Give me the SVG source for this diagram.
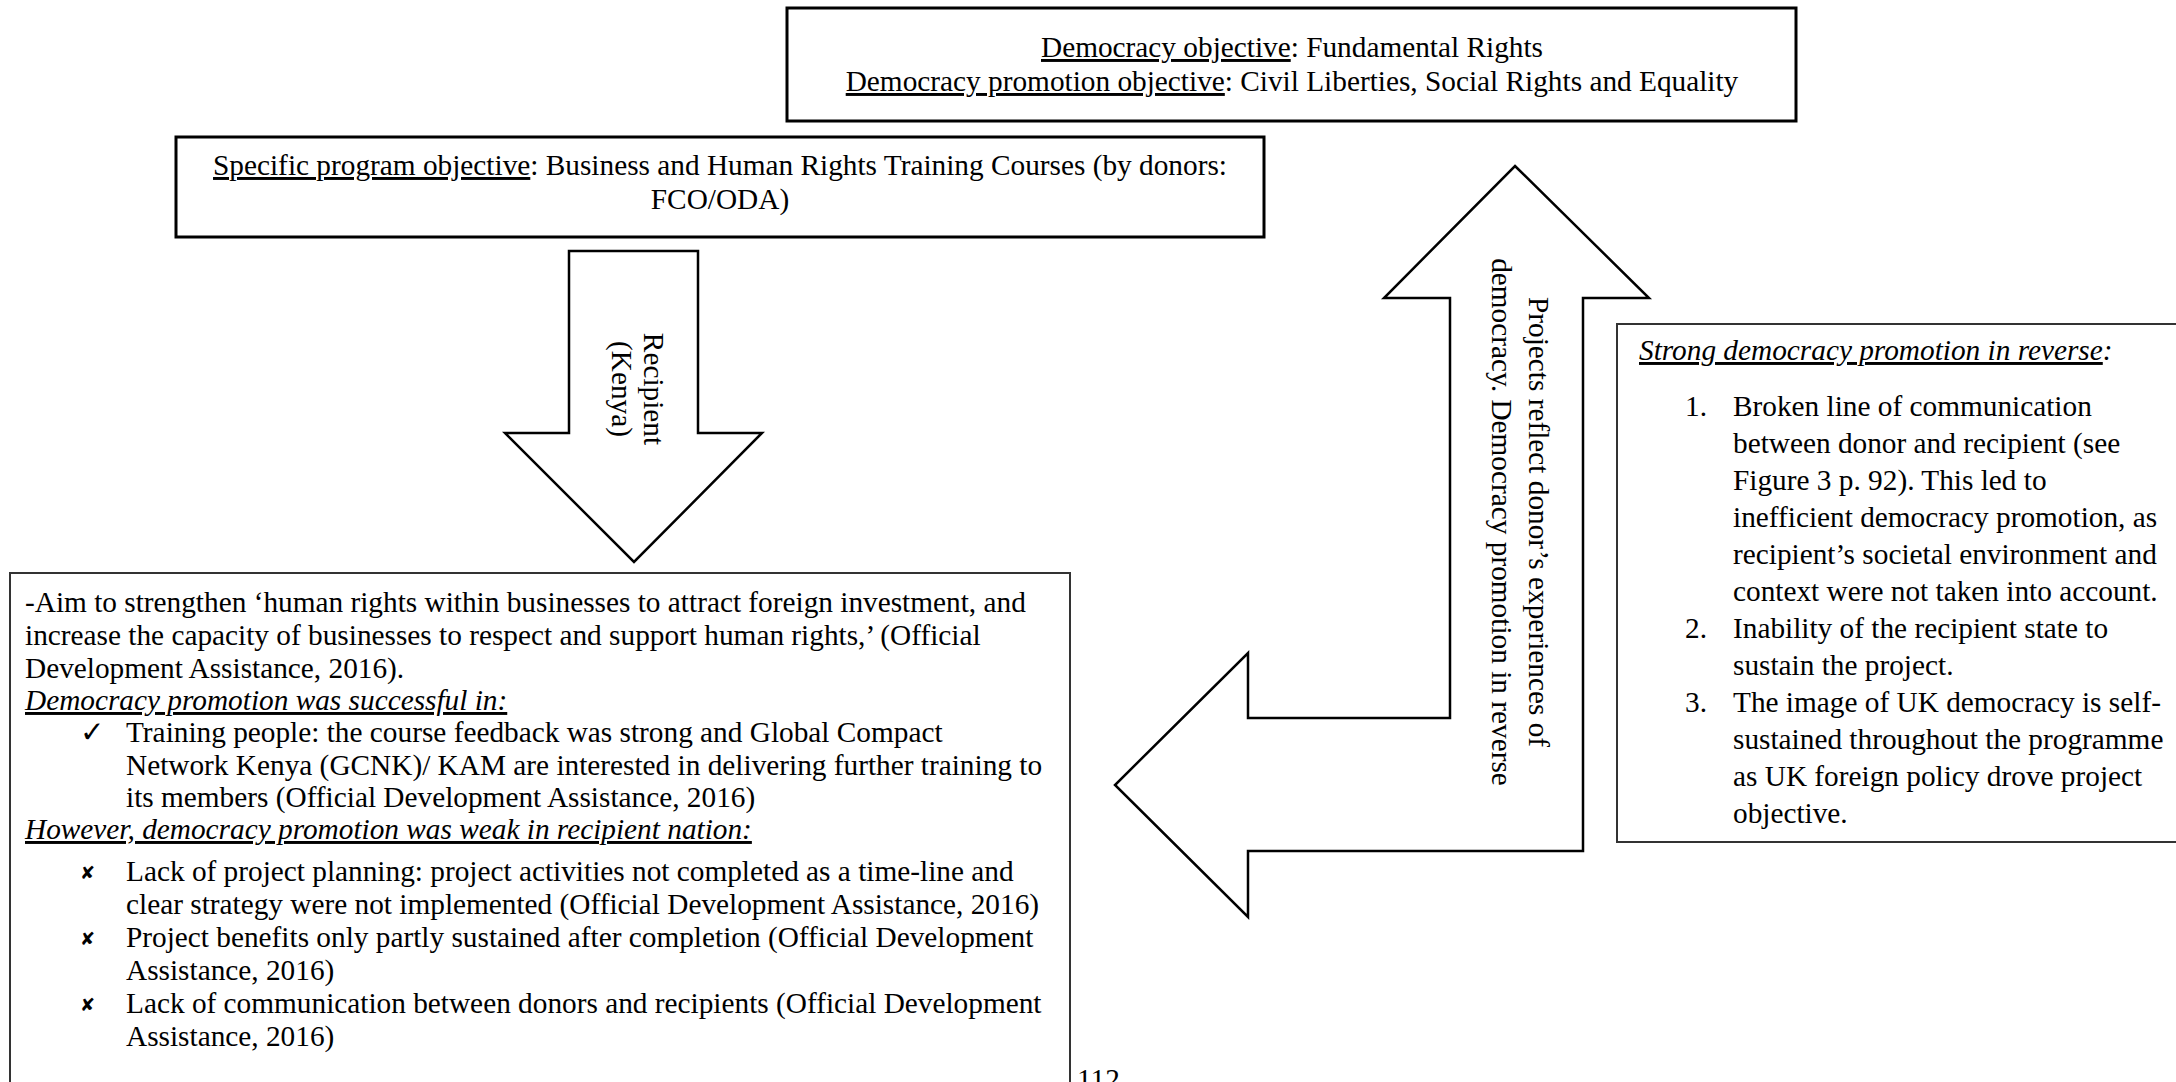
<svg xmlns="http://www.w3.org/2000/svg" width="2176" height="1082" viewBox="0 0 2176 1082">
<style>
  text { font-family: "Liberation Serif", "Times New Roman", serif; font-size: 29.3px; fill: #000; }
  .u { text-decoration: underline; }
  .i { font-style: italic; }
  .c { text-anchor: middle; }
  .box { fill: #fff; stroke: #000; stroke-width: 3; }
  .box2 { fill: #fff; stroke: #333; stroke-width: 2; }
  .arrow { fill: #fff; stroke: #000; stroke-width: 2.5; stroke-linejoin: miter; }
  .sym { font-family: "DejaVu Sans", sans-serif; }
  .x { font-family: "DejaVu Sans", sans-serif; font-size: 18px; }
</style>
<rect width="2176" height="1082" fill="#fff"/>

<g id="connectors">
  <g id="arrow-down">
    <polygon class="arrow" points="569,251 698,251 698,433 762,433 634,562 505,433 569,433"/>
    <g transform="translate(644,389) rotate(90)">
      <text class="c" x="0" y="0">Recipient</text>
      <text class="c" x="0" y="32.5">(Kenya)</text>
    </g>
  </g>
  <g id="arrow-bent">
    <polygon class="arrow" points="1515,166 1649,298 1583,298 1583,851 1248,851 1248,917 1115,785 1248,653 1248,718 1450,718 1450,298 1384,298"/>
    <g transform="translate(1529,522) rotate(90)">
      <text class="c" x="0" y="0">Projects reflect donor’s experiences of</text>
      <text class="c" x="0" y="37.3">democracy. Democracy promotion in reverse</text>
    </g>
  </g>
</g>

<g id="node-democracy-objective">
  <rect class="box" x="787" y="8" width="1009" height="113"/>
  <text class="c" x="1292" y="57"><tspan class="u">Democracy objective</tspan>: Fundamental Rights</text>
  <text class="c" x="1292" y="91"><tspan class="u">Democracy promotion objective</tspan>: Civil Liberties, Social Rights and Equality</text>
</g>

<g id="node-program-objective">
  <rect class="box" x="176" y="137" width="1088" height="100"/>
  <text class="c" x="720" y="175"><tspan class="u">Specific program objective</tspan>: Business and Human Rights Training Courses (by donors:</text>
  <text class="c" x="720" y="209">FCO/ODA)</text>
</g>

<g id="node-outcomes">
  <rect class="box2" x="10" y="573" width="1060" height="600"/>
  <text x="25" y="612">-Aim to strengthen ‘human rights within businesses to attract foreign investment, and</text>
  <text x="25" y="645">increase the capacity of businesses to respect and support human rights,’ (Official</text>
  <text x="25" y="678">Development Assistance, 2016).</text>
  <text x="25" y="710" class="i u">Democracy promotion was successful in:</text>
  <text x="80" y="742" class="sym" font-size="22">✓</text>
  <text x="126" y="742">Training people: the course feedback was strong and Global Compact</text>
  <text x="126" y="774.5">Network Kenya (GCNK)/ KAM are interested in delivering further training to</text>
  <text x="126" y="807">its members (Official Development Assistance, 2016)</text>
  <text x="25" y="839" class="i u">However, democracy promotion was weak in recipient nation:</text>
  <text x="80" y="879" class="x">✘</text>
  <text x="126" y="881">Lack of project planning: project activities not completed as a time-line and</text>
  <text x="126" y="914">clear strategy were not implemented (Official Development Assistance, 2016)</text>
  <text x="80" y="945" class="x">✘</text>
  <text x="126" y="947">Project benefits only partly sustained after completion (Official Development</text>
  <text x="126" y="980">Assistance, 2016)</text>
  <text x="80" y="1011" class="x">✘</text>
  <text x="126" y="1013">Lack of communication between donors and recipients (Official Development</text>
  <text x="126" y="1046">Assistance, 2016)</text>
</g>

<g id="node-reverse">
  <rect class="box2" x="1617" y="324" width="600" height="518"/>
  <text x="1639" y="360" class="i"><tspan class="u">Strong democracy promotion in reverse</tspan>:</text>
  <text x="1685" y="416">1.</text>
  <text x="1733" y="416">Broken line of communication</text>
  <text x="1733" y="453">between donor and recipient (see</text>
  <text x="1733" y="490">Figure 3 p. 92). This led to</text>
  <text x="1733" y="527">inefficient democracy promotion, as</text>
  <text x="1733" y="564">recipient’s societal environment and</text>
  <text x="1733" y="601">context were not taken into account.</text>
  <text x="1685" y="638">2.</text>
  <text x="1733" y="638">Inability of the recipient state to</text>
  <text x="1733" y="675">sustain the project.</text>
  <text x="1685" y="712">3.</text>
  <text x="1733" y="712">The image of UK democracy is self-</text>
  <text x="1733" y="749">sustained throughout the programme</text>
  <text x="1733" y="786">as UK foreign policy drove project</text>
  <text x="1733" y="823">objective.</text>
</g>

<text id="page-number" x="1077" y="1089">112</text>
</svg>
